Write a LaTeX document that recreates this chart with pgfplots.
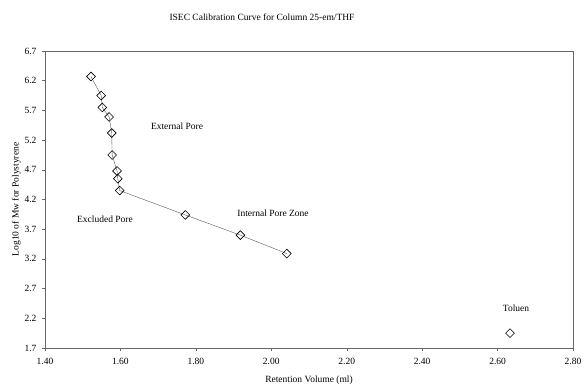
\documentclass[border=0pt]{standalone}
\usepackage{pgfplots}
\pgfplotsset{compat=1.18}
\usepackage{fontspec}
\setmainfont{Liberation Serif}
\begin{document}
\begin{tikzpicture}[x=1pt,y=1pt]
\useasboundingbox (0,0) rectangle (585,388);
\begin{axis}[
  at={(45pt,40pt)}, anchor=south west,
  scale only axis, width=528pt, height=297pt,
  xmin=1.4, xmax=2.8, ymin=1.7, ymax=6.7,
  xtick={1.4,1.6,...,2.81}, ytick={1.7,2.2,...,6.71},
  xticklabel style={yshift=-4pt, /pgf/number format/.cd,fixed,fixed zerofill,precision=2},
  yticklabel style={xshift=-2pt, /pgf/number format/.cd,fixed,fixed zerofill,precision=1},
  /pgf/number format/assume math mode=true,
  tick align=outside, tick pos=left,
  major tick length=3pt,
  axis line style={gray!80!black, line width=0.5pt},
  every tick/.style={gray!80!black, line width=0.4pt},
  ticklabel style={font=\fontsize{9.5}{11}\selectfont},
  ylabel={Log10 of Mw for Polystyrene},
  label style={font=\fontsize{9.5}{11}\selectfont},
  ylabel style={yshift=-3pt},
  clip=false,
]
\addplot[gray!70!black, line width=0.4pt, mark=square, mark size=3.1pt,
  mark options={solid, black, fill=white, line width=0.6pt, rotate=45}]
  coordinates {
  (1.522,6.27) (1.549,5.95) (1.552,5.75) (1.570,5.59) (1.577,5.32)
  (1.578,4.95) (1.591,4.68) (1.593,4.55) (1.598,4.35) (1.772,3.94)
  (1.918,3.60) (2.041,3.29)};
\addplot[only marks, mark=square, mark size=3.1pt,
  mark options={black, fill=white, line width=0.6pt, rotate=45}]
  coordinates {(2.633,1.95)};
\end{axis}
\begin{scope}[every node/.style={font=\fontsize{9.5}{11}\selectfont, inner sep=0pt}]
\node at (262,371) {ISEC Calibration Curve for Column 25-em/THF};
\node at (309,8) {Retention Volume (ml)};
\node at (177,262) {External Pore};
\node at (105,169) {Excluded Pore};
\node at (273,175) {Internal Pore Zone};
\node at (516,80) {Toluen};
\end{scope}
\end{tikzpicture}
\end{document}
